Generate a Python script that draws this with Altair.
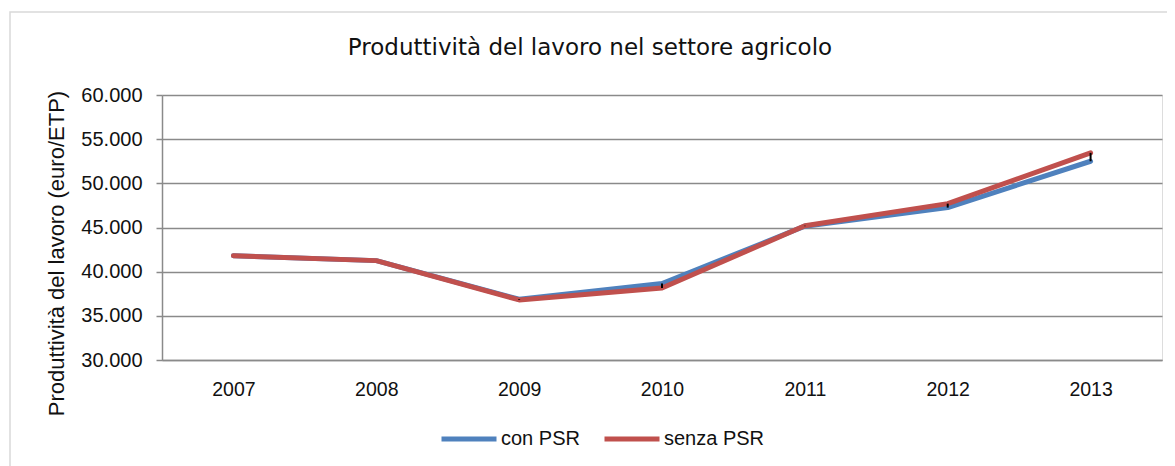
import altair as alt
import pandas as pd

years = ["2007", "2008", "2009", "2010", "2011", "2012", "2013"]
con_psr = [41800, 41250, 36880, 38650, 45150, 47250, 52500]
senza_psr = [41800, 41250, 36800, 38150, 45200, 47700, 53450]
series = ["con PSR", "senza PSR"]
colors = ["#4F81BD", "#C0504D"]
y_ticks = [30000, 35000, 40000, 45000, 50000, 55000, 60000]

long = pd.DataFrame({
    "Anno": years * 2,
    "Serie": [series[0]] * len(years) + [series[1]] * len(years),
    "Valore": con_psr + senza_psr,
})
wide = pd.DataFrame({"Anno": years, "con": con_psr, "senza": senza_psr})

FONT = "Liberation Sans"
TFONT = "DejaVu Sans"
GRID = "#8a8a8a"
YTITLE = "Produttività del lavoro (euro/ETP)"

x_enc = alt.X(
    "Anno:O", sort=years,
    scale=alt.Scale(type="point", padding=0.5),
    axis=alt.Axis(title=None, labelAngle=0, ticks=False, labelPadding=20,
                  domainColor=GRID, domainWidth=1.5, labelFontSize=19.5,
                  labelColor="#111", labelFont=FONT, grid=False),
)
y_axis = alt.Axis(
    values=y_ticks,
    labelExpr="replace(format(datum.value, ','), ',', '.')",
    title=YTITLE, titleFontSize=22, titleFont=FONT, titleFontWeight="normal",
    titleColor="#111", titleX=-106, titleY=158, titleAlign="center",
    titleBaseline="middle", titleAngle=270,
    labelFontSize=20, labelFont=FONT, labelColor="#111", labelPadding=14,
    tickSize=6, tickColor=GRID, tickWidth=1.5,
    domainColor=GRID, domainWidth=1.5,
    grid=True, gridColor=GRID, gridWidth=1.5,
)
y_scale = alt.Scale(domain=[30000, 60000], nice=False, zero=False)

frame = alt.Chart(pd.DataFrame({"a": [0]})).mark_rect(
    filled=False, stroke="#d9d9d9", strokeWidth=1.5
).encode(
    x=alt.value(-152), x2=alt.value(1100), y=alt.value(-83), y2=alt.value(420)
)

lines = alt.Chart(long).mark_line(
    strokeWidth=5, strokeCap="round", strokeJoin="round"
).encode(
    x=x_enc,
    y=alt.Y("Valore:Q", scale=y_scale, axis=y_axis),
    color=alt.Color(
        "Serie:N",
        scale=alt.Scale(domain=series, range=colors),
        legend=alt.Legend(
            title=None, orient="none", legendX=277, legendY=314,
            direction="horizontal", symbolType="stroke", symbolSize=3025,
            symbolStrokeWidth=5, labelFontSize=20, labelFont=FONT,
            labelColor="#111", labelOffset=2, columnPadding=14,
        ),
    ),
)

rules = alt.Chart(wide).mark_rule(color="black", strokeWidth=2).encode(
    x=alt.X("Anno:O", sort=years),
    y=alt.Y("con:Q", title=YTITLE),
    y2="senza:Q",
)

chart = alt.layer(frame, lines, rules).properties(
    width=1000,
    height=265,
    autosize=alt.AutoSizeParams(type="none"),
    padding={"left": 154, "top": 87, "right": 5, "bottom": 110},
    title=alt.TitleParams(
        "Produttività del lavoro nel settore agricolo",
        fontSize=23, font=TFONT, fontWeight="normal", color="#111",
        anchor="middle", offset=-49, dx=-72,
    ),
).configure_view(stroke=None).configure(background="white")

chart.save("out.html", embed_options={"renderer": "svg", "actions": False})
